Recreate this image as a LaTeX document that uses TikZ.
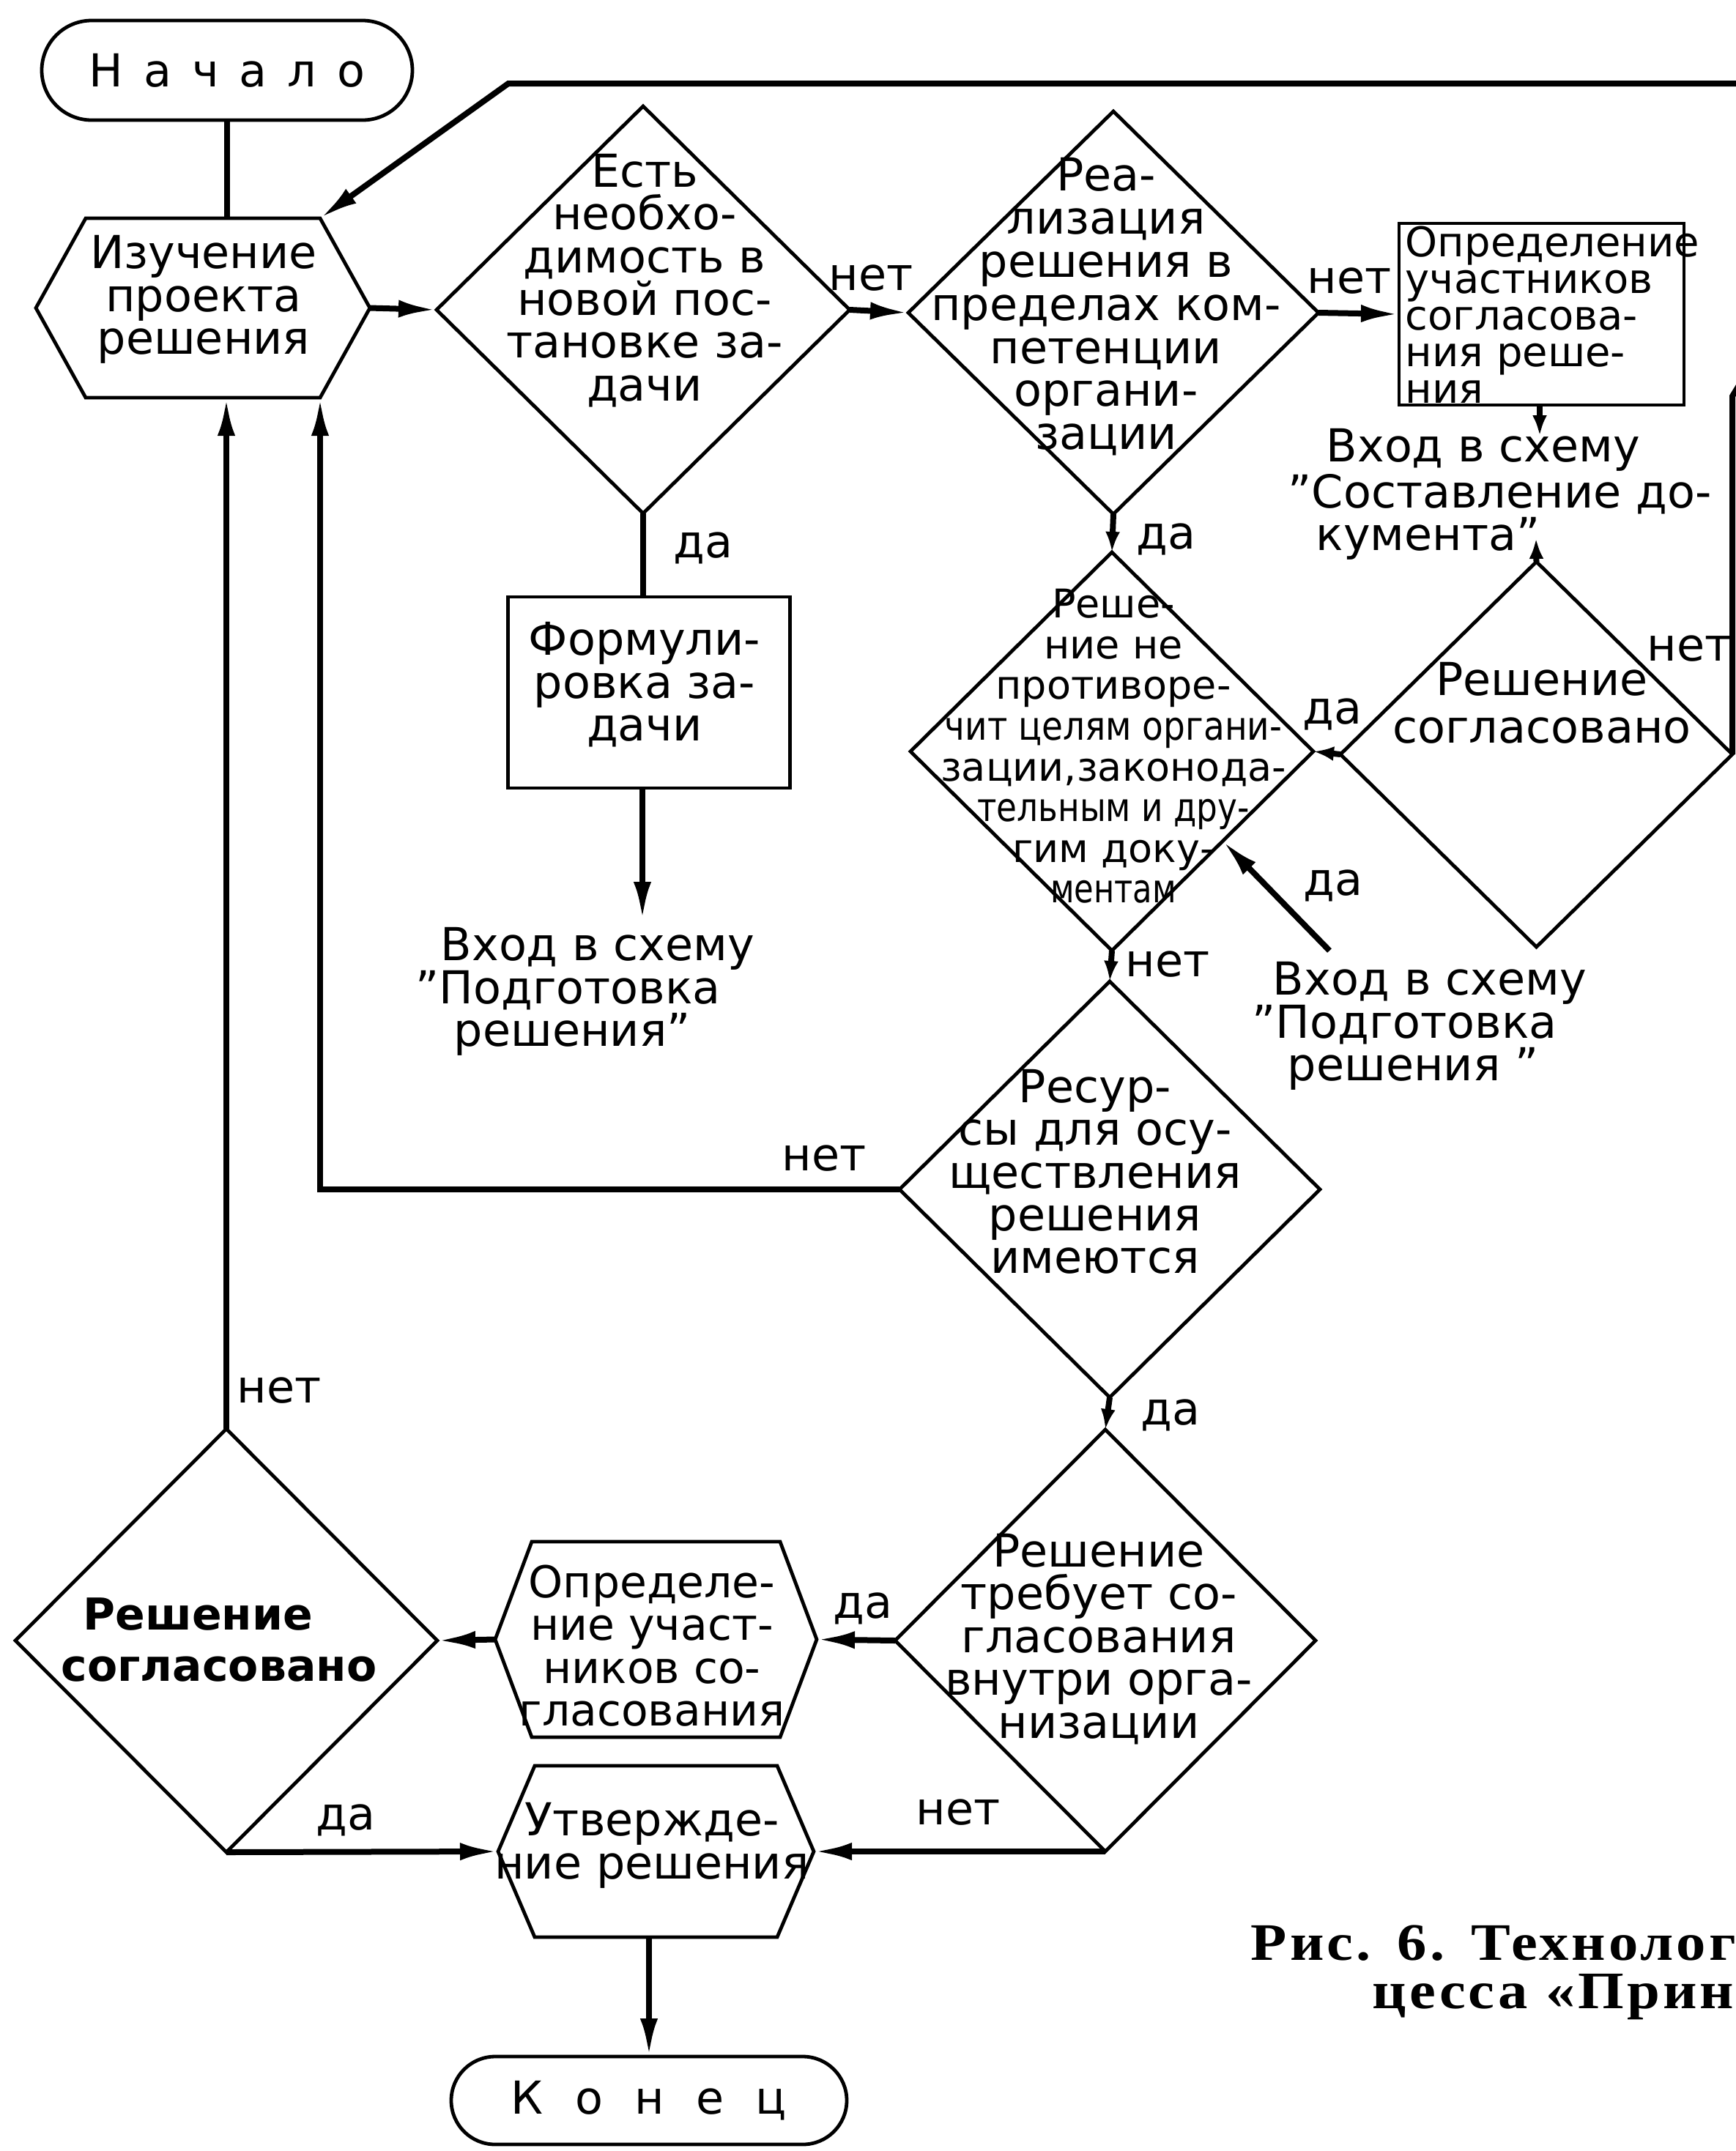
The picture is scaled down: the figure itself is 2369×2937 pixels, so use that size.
\documentclass[tikz,border=0pt]{standalone}
\usepackage{fontspec}
\usepackage{graphicx}
\setmainfont{DejaVu Sans}
\newfontfamily\spaceA[LetterSpace=45]{DejaVu Sans}
\newfontfamily\spaceB[LetterSpace=70]{DejaVu Sans}
\newfontfamily\capfont[LetterSpace=5]{Liberation Serif}
\usetikzlibrary{shapes.geometric,arrows.meta,calc}
\newcommand{\mfs}{\fontsize{15.5}{14.6}\selectfont}
\newcommand{\cond}[2]{\scalebox{#1}[1]{#2}}
\begin{document}
\begin{tikzpicture}[x=0.25pt,y=-0.25pt,
  outline/.style={draw,line width=1.2pt},
  conn/.style={line width=2pt},
  arr/.style={conn,-{Latex[length=13pt,width=6pt]}},
  sarr/.style={conn,-{Latex[length=7pt,width=5pt]}},
  dia/.style={outline,diamond,inner sep=0pt,outer sep=0pt},
  box/.style={rectangle,inner sep=0pt,outer sep=0pt},
  rbox/.style={box,outline},
  term/.style={rbox,rounded corners=#1},
  txt/.style={inner sep=0pt,align=center,font=\mfs},
  lbl/.style={inner sep=0pt,font=\mfs},
  captxt/.style={anchor=base west,inner sep=0pt,font=\capfont\bfseries\fontsize{18}{20}\selectfont},
]
\useasboundingbox (0,0) rectangle (2369,2937);

% ---------- terminals ----------
\node[term=17pt, minimum width=126.5pt, minimum height=34pt, font=\mfs] (nach) at (310,96) {\spaceA Начало};
\node[term=15pt, minimum width=135pt, minimum height=30pt, font=\mfs] (kon) at (886,2868) {\spaceB Конец};

% ---------- hexagon 1 ----------
\node[box, minimum width=114pt, minimum height=61.25pt] (hex1) at (277,420.5) {};
\draw[outline] (hex1.west) -- ($(hex1.north west)+(68,0)$) -- ($(hex1.north east)+(-68,0)$) coordinate (hex1ne)
  -- (hex1.east) -- ($(hex1.south east)+(-68,0)$) coordinate (hex1se) -- ($(hex1.south west)+(68,0)$) -- cycle;
\node[txt] (hex1t) at (278,409) {Изучение\\проекта\\решения};

% ---------- diamond 1 ----------
\node[dia, minimum width=141pt, minimum height=139pt] (d1) at (878,423) {};
\node[txt] (d1t) at (880,383) {Есть\\необхо-\\димость в\\новой пос-\\тановке за-\\дачи};

% ---------- Formulation box ----------
\node[rbox, minimum width=96.25pt, minimum height=65.25pt] (formul) at (886,945.5) {};
\node[txt] (formult) at (880,935) {Формули-\\ровка за-\\дачи};
\node[txt, align=left, anchor=west] (vhod1) at (567,1354) {\hspace*{8.5pt}Вход в схему\\”Подготовка\\\hspace*{13pt}решения”};
\coordinate (in1) at (877,1256);

% ---------- diamond 2 ----------
\node[dia, minimum width=140pt, minimum height=137.5pt] (d2) at (1520,427) {};
\node[txt, font=\fontsize{15.5}{14.7}\selectfont] (d2t) at (1510,419) {Реа-\\лизация\\решения в\\пределах ком-\\петенции\\органи-\\зации};

% ---------- box: participants ----------
\node[rbox, minimum width=97.25pt, minimum height=62pt] (opr1) at (2104.5,429) {};
\node[txt, align=left, anchor=west, font=\fontsize{14}{12.5}\selectfont] (opr1t) at (1918,430) {Определение\\участников\\согласова-\\ния реше-\\ния};
\node[txt, align=left, anchor=west] (vhod2) at (1758,675) {\hspace*{13pt}Вход в схему\\”Составление до-\\\hspace*{9.5pt}кумента”};
\coordinate (in2) at (2102,595);
\coordinate (in3) at (2097,735);

% ---------- diamond 5 (right) ----------
\node[dia, minimum width=133.75pt, minimum height=131.5pt] (d5) at (2097.5,1030) {};
\node[txt, font=\fontsize{15.5}{16.2}\selectfont] (d5t) at (2105,960) {Решение\\согласовано};

% ---------- diamond 3 ----------
\node[dia, minimum width=137.5pt, minimum height=136pt] (d3) at (1518,1026) {};
\node[txt, font=\fontsize{13.5}{13.9}\selectfont] (d3t) at (1520,1019) {Реше-\\ние не\\противоре-\\\cond{0.87}{чит целям органи-}\\зации,законода-\\\cond{0.84}{тельным и дру-}\\гим доку-\\\cond{0.8}{ментам}};
\node[txt, align=left, anchor=west] (vhod3) at (1709,1401) {\hspace*{7pt}Вход в схему\\”Подготовка\\\hspace*{12pt}решения ”};
\coordinate (src4) at (1815,1298);

% ---------- diamond 4 ----------
\node[dia, minimum width=143.5pt, minimum height=142pt] (d4) at (1515,1624) {};
\node[txt] (d4t) at (1495,1600) {Ресур-\\сы для осу-\\ществления\\решения\\имеются};

% ---------- diamond 6 ----------
\node[dia, minimum width=143.5pt, minimum height=144pt] (d6) at (1509,2240) {};
\node[txt] (d6t) at (1500,2238) {Решение\\требует со-\\гласования\\внутри орга-\\низации};

% ---------- hexagon 2 ----------
\node[box, minimum width=109.75pt, minimum height=66.75pt] (opr2) at (895.5,2238.5) {};
\draw[outline] (opr2.west) -- ($(opr2.north west)+(50,0)$) -- ($(opr2.north east)+(-50,0)$)
  -- (opr2.east) -- ($(opr2.south east)+(-50,0)$) -- ($(opr2.south west)+(50,0)$) -- cycle;
\node[txt, font=\fontsize{15}{14.6}\selectfont] (opr2t) at (890,2247) {Определе-\\ние участ-\\ников со-\\гласования};

% ---------- hexagon 3 ----------
\node[box, minimum width=107.75pt, minimum height=58.5pt] (utv) at (895.5,2528) {};
\draw[outline] (utv.west) -- ($(utv.north west)+(50,0)$) -- ($(utv.north east)+(-50,0)$)
  -- (utv.east) -- ($(utv.south east)+(-50,0)$) -- ($(utv.south west)+(50,0)$) -- cycle;
\node[txt] (utvt) at (890,2520) {Утвержде-\\ние решения};

% ---------- diamond bottom-left ----------
\node[dia, minimum width=144pt, minimum height=144.5pt] (dbl) at (309,2240) {};
\node[txt, align=left, anchor=west, font=\bfseries\fontsize{15}{17.5}\selectfont] (dblt) at (83,2239) {\hspace*{7.5pt}Решение\\согласовано};

% ---------- caption ----------
\node[captxt] (cap1) at (1707,2676) {\cond{1.12}{Рис.\hspace{0.45em}6.\hspace{0.45em}Технологи}};
\node[captxt] (cap2) at (1873,2742) {\cond{1.12}{цесса «Приня}};

% ---------- connectors ----------
\coordinate (loopA) at (2365,541);
\coordinate (loopB) at (2390,500);
\coordinate (loopR) at (2390,114);
\coordinate (loopL) at (694,114);
\draw[conn] (nach.south) -- (nach.south |- hex1.north);
\draw[arr] (hex1.east) -- (d1.west);
\draw[arr] (d1.east) -- (d2.west);
\draw[conn] (d1.south) -- (d1.south |- formul.north);
\draw[arr] (formul.south -| in1) -- (in1);
\draw[arr] (d2.east) -- (opr1.west);
\draw[sarr] (d2.south) -- (d3.north);
\draw[sarr] (opr1.south -| in2) -- (in2);
\draw[sarr] (d5.north) -- (in3);
\draw[sarr] (d5.west) -- (d3.east);
\draw[arr] (d5.east) -- (loopA) -- (loopB) -- (loopR) -- (loopL) -- (hex1ne);
\draw[arr] (src4) -- ($(d3.east)!0.45!(d3.south)$);
\draw[sarr] (d3.south) -- (d4.north);
\draw[arr] (d4.west) -| (hex1se);
\draw[arr] (dbl.north) -- (dbl.north |- hex1.south);
\draw[sarr] (d4.south) -- (d6.north);
\draw[arr] (d6.west) -- (opr2.east);
\draw[arr] (opr2.west) -- (dbl.east);
\draw[arr] (dbl.south) -- (utv.west);
\draw[arr] (d6.south) -- (utv.east);
\draw[arr] (kon.north |- utv.south) -- (kon.north);

% ---------- labels ----------
\node[lbl] at (1189,380) {нет};
\node[lbl] at (1842,384) {нет};
\node[lbl] at (960,748) {да};
\node[lbl] at (1592,736) {да};
\node[lbl] at (1819,975) {да};
\node[lbl] at (1820,1209) {да};
\node[lbl] at (1594,1317) {нет};
\node[lbl] at (2306,886) {нет};
\node[lbl] at (1125,1582) {нет};
\node[lbl] at (381,1899) {нет};
\node[lbl] at (1598,1932) {да};
\node[lbl] at (1178,2196) {да};
\node[lbl] at (472,2485) {да};
\node[lbl] at (1308,2475) {нет};
\end{tikzpicture}
\end{document}
